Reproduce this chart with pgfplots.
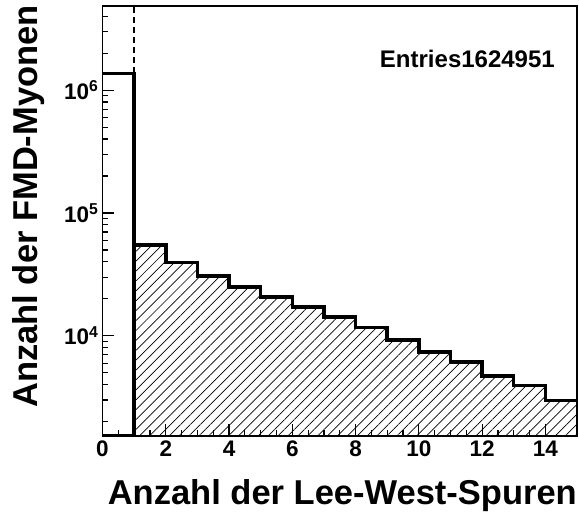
\documentclass[border=0pt]{standalone}
\usepackage{fontspec}
\setmainfont{Liberation Sans}
\usepackage{pgfplots}
\pgfplotsset{compat=1.18}
\usetikzlibrary{patterns.meta}

\begin{document}
\begin{tikzpicture}
\useasboundingbox (-102.5pt,-80pt) rectangle (476.5pt,436pt);
\begin{axis}[
    at={(0pt,0pt)}, anchor=south west,
    scale only axis,
    width=474.5pt, height=430pt,
    xmin=0, xmax=15,
    ymode=log, ymin=1531, ymax=4.84e6,
    axis line style={line width=1.5pt},
    xtick={0,2,...,14},
    minor x tick num=3,
    ytick={1e4,1e5,1e6},
    yticklabels={10\textsuperscript{4},10\textsuperscript{5},10\textsuperscript{6}},
    minor ytick={2000,3000,4000,5000,6000,7000,8000,9000,
                 20000,30000,40000,50000,60000,70000,80000,90000,
                 200000,300000,400000,500000,600000,700000,800000,900000,
                 2e6,3e6,4e6},
    tick align=inside,
    xtick pos=bottom, ytick pos=left,
    major tick length=12pt, minor tick length=6pt,
    every tick/.style={black, line width=1.2pt},
    /pgf/number format/assume math mode=true,
    tick label style={font=\bfseries\fontsize{22.5}{22.5}\selectfont},
    yticklabel style={inner sep=4pt},
    xticklabel style={inner sep=5pt},
    xlabel={Anzahl der Lee-West-Spuren},
    ylabel={Anzahl der FMD-Myonen},
    xlabel style={at={(axis description cs:1,0)}, anchor=base east,
                  yshift=-69pt, inner sep=0pt,
                  font=\bfseries\fontsize{34.5}{34.5}\selectfont},
    ylabel style={at={(axis description cs:-0.138,1.0023)}, anchor=base east,
                  inner sep=0pt,
                  font=\bfseries\fontsize{34.5}{34.5}\selectfont},
]
% hatched part, bins 1..14
\addplot[const plot, draw=none,
    pattern={Lines[angle=45, distance=7pt, line width=0.7pt]}]
  coordinates {
    (1,54800) (2,39400) (3,30700) (4,25100) (5,20800) (6,17200) (7,14300)
    (8,11700) (9,9230) (10,7410) (11,6140) (12,4720) (13,3960) (14,2990) (15,2990)
  } \closedcycle;
\addplot[const plot, line width=3.5pt, line join=miter]
  coordinates {
    (1,1531) (1,54800) (2,39400) (3,30700) (4,25100) (5,20800) (6,17200) (7,14300)
    (8,11700) (9,9230) (10,7410) (11,6140) (12,4720) (13,3960) (14,2990) (15,2990)
  };
% bin 0
\addplot[const plot, line width=3.5pt, line join=miter]
  coordinates {(0,1.37e6) (1,1.37e6) (1,1531) (0,1531)};
% cut line
\addplot[line width=1.3pt, dash pattern=on 6pt off 4pt]
  coordinates {(1,1.37e6) (1,4.84e6)};
\node[anchor=base east, inner sep=0pt, font=\bfseries\fontsize{24}{24}\selectfont]
  at (axis description cs:0.9536,0.8558) {Entries1624951};
\end{axis}
\end{tikzpicture}
\end{document}
